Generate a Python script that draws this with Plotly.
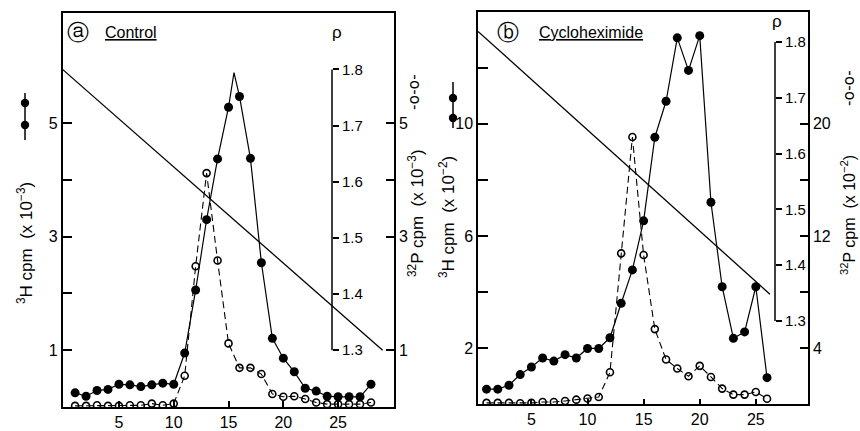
import plotly.graph_objects as go

# ---------------- data ----------------
fractions_a = list(range(1, 29))
h3_a = [0.25, 0.19, 0.29, 0.31, 0.40, 0.39, 0.36, 0.39, 0.42, 0.40, 0.95, 2.06, 3.30, 4.37,
        5.28, 5.47, 4.38, 2.54, 1.21, 0.86, 0.62, 0.33, 0.28, 0.19, 0.18, 0.18, 0.18, 0.40]
h3_a_apex = [15.5, 5.89]  # sharp apex of the drawn 3H curve (no marker)
p32_a = [0.02, 0.02, 0.03, 0.02, 0.02, 0.03, 0.03, 0.06, 0.03, 0.06, 0.55, 2.48, 4.12, 2.58,
         1.12, 0.69, 0.69, 0.58, 0.23, 0.18, 0.19, 0.14, 0.08, 0.05, 0.05, 0.05, 0.05, 0.08]
rho_a_x = [-0.15, 29.06]
rho_a = [1.80, 1.30]

fractions_b = list(range(1, 27))
h3_b = [0.54, 0.54, 0.68, 1.06, 1.33, 1.65, 1.54, 1.77, 1.65, 1.99, 1.99, 2.37, 3.60, 4.79,
        6.54, 9.52, 10.8, 13.06, 11.9, 13.14, 7.2, 4.19, 2.35, 2.58, 4.19, 0.95]
p32_b = [0.10, 0.10, 0.10, 0.08, 0.10, 0.16, 0.16, 0.24, 0.33, 0.41, 0.52, 2.28, 10.76, 19.05,
         10.64, 5.36, 3.19, 2.55, 2.0, 2.74, 1.95, 1.12, 0.69, 0.69, 0.88, 0.40]
rho_b_x = [0.24, 26.26]
rho_b = [1.819, 1.348]

x_ticks = [5, 10, 15, 20, 25]
rho_ticks = [1.3, 1.4, 1.5, 1.6, 1.7, 1.8]
left_a_ticks = [1, 3, 5]
left_a_minor = [2, 4]
right_a_ticks = [1, 3, 5]
right_a_minor = [4]
left_b_ticks = [2, 6, 10]
left_b_minor = [4, 8, 12]
right_b_ticks = [4, 12, 20]
right_b_minor = [8, 16]

# ---------------- geometry helpers ----------------
W, H = 860, 431
def px(x): return x / W
def py(y): return 1 - y / H

FONT = "Liberation Sans, Arial, sans-serif"
GLYPH_FONT = "DejaVu Sans"
BLACK = "black"

dom_xa = [px(62.5), px(394)]
dom_ya = [py(407), py(13)]
dom_xb = [px(478), px(808)]
dom_yb = [py(404.3), py(11.5)]

# 3H line of panel a including apex vertex
line_ax = fractions_a[:15] + [h3_a_apex[0]] + fractions_a[15:]
line_ay = h3_a[:15] + [h3_a_apex[1]] + h3_a[15:]

fig = go.Figure()

# ---- panel a ----
fig.add_trace(go.Scatter(x=rho_a_x, y=rho_a, mode="lines", xaxis="x", yaxis="y3",
                         line=dict(color=BLACK, width=1.3), showlegend=False))
fig.add_trace(go.Scatter(x=fractions_a, y=p32_a, mode="lines+markers", xaxis="x", yaxis="y2",
                         line=dict(color=BLACK, width=1.1, dash="7px,4px"),
                         marker=dict(symbol="circle-open", size=7, color=BLACK, line=dict(width=1.6)),
                         showlegend=False))
fig.add_trace(go.Scatter(x=line_ax, y=line_ay, mode="lines", xaxis="x", yaxis="y",
                         line=dict(color=BLACK, width=1.2), showlegend=False))
fig.add_trace(go.Scatter(x=fractions_a, y=h3_a, mode="markers", xaxis="x", yaxis="y",
                         marker=dict(symbol="circle", size=9, color=BLACK), showlegend=False))

# ---- panel b ----
fig.add_trace(go.Scatter(x=rho_b_x, y=rho_b, mode="lines", xaxis="x2", yaxis="y6",
                         line=dict(color=BLACK, width=1.3), showlegend=False))
fig.add_trace(go.Scatter(x=fractions_b, y=p32_b, mode="lines+markers", xaxis="x2", yaxis="y5",
                         line=dict(color=BLACK, width=1.1, dash="7px,4px"),
                         marker=dict(symbol="circle-open", size=7, color=BLACK, line=dict(width=1.6)),
                         showlegend=False))
fig.add_trace(go.Scatter(x=fractions_b, y=h3_b, mode="lines+markers", xaxis="x2", yaxis="y4",
                         line=dict(color=BLACK, width=1.2),
                         marker=dict(symbol="circle", size=9, color=BLACK), showlegend=False))

tickfont = dict(family=FONT, size=16, color=BLACK)
common_axis = dict(showgrid=False, zeroline=False, showline=True, linecolor=BLACK, linewidth=1.5,
                   tickcolor=BLACK, tickwidth=1.5, tickfont=tickfont)

def minor(vals, length):
    return dict(tickmode="array", tickvals=vals, ticks="inside", ticklen=length,
                tickwidth=1.5, tickcolor=BLACK, showgrid=False)

fig.update_layout(
    width=W, height=H, margin=dict(l=0, r=0, t=0, b=0),
    paper_bgcolor="white", plot_bgcolor="white",
    xaxis=dict(domain=dom_xa, range=[-0.15, 30.1], anchor="y", tickvals=x_ticks,
               ticks="inside", ticklen=6, mirror=True, **common_axis),
    yaxis=dict(domain=dom_ya, range=[0, 6.94], anchor="x", tickvals=left_a_ticks,
               ticks="inside", ticklen=10, minor=minor(left_a_minor, 10), **common_axis),
    yaxis2=dict(overlaying="y", side="right", anchor="x", range=[0, 6.94],
                tickvals=right_a_ticks, ticks="inside", ticklen=8,
                minor=minor(right_a_minor, 8), **common_axis),
    yaxis3=dict(overlaying="y", side="right", anchor="free", position=px(332),
                range=[1.1988, 1.9004], tickvals=rho_ticks, ticks="outside", ticklen=6,
                showgrid=False, zeroline=False, showline=False, tickcolor=BLACK, tickwidth=1.5,
                tickfont=dict(family=FONT, size=15, color=BLACK)),
    xaxis2=dict(domain=dom_xb, range=[0.24, 29.65], anchor="y4", tickvals=x_ticks,
                ticks="inside", ticklen=6, mirror=True, **common_axis),
    yaxis4=dict(domain=dom_yb, range=[0, 14.0], anchor="x2", tickvals=left_b_ticks,
                ticks="inside", ticklen=10, minor=minor(left_b_minor, 10), **common_axis),
    yaxis5=dict(overlaying="y4", side="right", anchor="x2", range=[0, 28.0],
                tickvals=right_b_ticks, ticks="inside", ticklen=8,
                minor=minor(right_b_minor, 8), **common_axis),
    yaxis6=dict(overlaying="y4", side="right", anchor="free", position=px(775),
                range=[1.1507, 1.8547], tickvals=rho_ticks, ticks="outside", ticklen=6,
                showgrid=False, zeroline=False, showline=False, tickcolor=BLACK, tickwidth=1.5,
                tickfont=dict(family=FONT, size=15, color=BLACK)),
)

# rho axis spines (only between 1.3 and 1.8)
fig.add_shape(type="line", xref="paper", yref="y3", x0=px(332), x1=px(332), y0=1.3, y1=1.8,
              line=dict(color=BLACK, width=1.5))
fig.add_shape(type="line", xref="paper", yref="y6", x0=px(775), x1=px(775), y0=1.3, y1=1.8,
              line=dict(color=BLACK, width=1.5))

# filled-circle key glyphs beside the 3H axis titles (decoration)
def key_glyph(xc, y_top, y_bot, dots):
    fig.add_shape(type="line", xref="paper", yref="paper", x0=px(xc), x1=px(xc),
                  y0=py(y_top), y1=py(y_bot), line=dict(color=BLACK, width=1.5))
    for yd in dots:
        fig.add_shape(type="circle", xref="paper", yref="paper",
                      x0=px(xc - 4.2), x1=px(xc + 4.2), y0=py(yd - 4.2), y1=py(yd + 4.2),
                      fillcolor=BLACK, line=dict(color=BLACK, width=0))

key_glyph(25, 93, 140, [103, 125])
key_glyph(453, 82, 128, [98, 118])

def ann(x, y, text, size=16, angle=0, family=FONT):
    fig.add_annotation(x=px(x), y=py(y), xref="paper", yref="paper", text=text,
                       showarrow=False, textangle=angle,
                       font=dict(family=family, size=size, color=BLACK),
                       xanchor="center", yanchor="middle")

# panel labels
ann(78, 33, "ⓐ", size=22, family=GLYPH_FONT)
ann(131, 32, "<u>Control</u>", size=16)
ann(508, 33, "ⓑ", size=22, family=GLYPH_FONT)
ann(591, 32, "<u>Cycloheximide</u>", size=16)

# rho labels
ann(337, 32, "ρ", size=17)
ann(777, 22, "ρ", size=17)

# axis titles
ann(25, 243, "<sup>3</sup>H cpm  (x 10<sup>−3</sup>)", size=17, angle=-90)
ann(416, 213, "<sup>32</sup>P cpm  (x 10<sup>−3</sup>)", size=17, angle=-90)
ann(414, 92, "-o-o-", size=15, angle=-90, family=GLYPH_FONT)

ann(447, 217, "<sup>3</sup>H cpm  (x 10<sup>−2</sup>)", size=17, angle=-90)
ann(848, 215, "<sup>32</sup>P cpm  (x 10<sup>−2</sup>)", size=16, angle=-90)
ann(849, 88, "-o-o-", size=15, angle=-90, family=GLYPH_FONT)

fig.write_html("out.html")
